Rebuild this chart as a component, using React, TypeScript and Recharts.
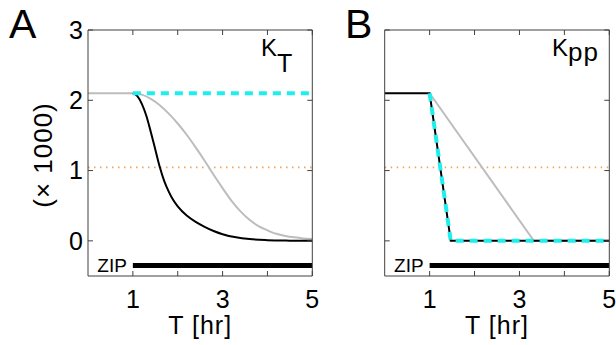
import React from 'react';
import { LineChart, Line, XAxis, YAxis, LabelList } from 'recharts';

const FONT = '"Liberation Sans", Arial, Helvetica, sans-serif';
const AXIS_COLOR = '#404040';

// shared axis ticks
const xTicks = [1, 2, 3, 4, 5];
const xTickLabels: Record<number, string> = { 1: '1', 2: '', 3: '3', 4: '', 5: '5' };
const yTicks = [0, 1, 2, 3];

// Panel A (K_T)
const kTZip = [
  { x: 1.0, y: 2.1 }, { x: 1.1, y: 2.06 }, { x: 1.2, y: 1.95 }, { x: 1.3, y: 1.78 },
  { x: 1.4, y: 1.55 }, { x: 1.5, y: 1.3 }, { x: 1.6, y: 1.05 }, { x: 1.7, y: 0.85 },
  { x: 1.8, y: 0.7 }, { x: 1.9, y: 0.58 }, { x: 2.0, y: 0.49 }, { x: 2.2, y: 0.36 },
  { x: 2.4, y: 0.27 }, { x: 2.6, y: 0.2 }, { x: 2.8, y: 0.14 }, { x: 3.0, y: 0.095 },
  { x: 3.3, y: 0.05 }, { x: 3.6, y: 0.025 }, { x: 4.0, y: 0.01 }, { x: 4.5, y: 0.003 },
  { x: 5.0, y: 0.0 },
];
const kTSlow = [
  { x: 0, y: 2.1 }, { x: 1.0, y: 2.1 }, { x: 1.2, y: 2.08 }, { x: 1.4, y: 2.02 },
  { x: 1.6, y: 1.93 }, { x: 1.8, y: 1.81 }, { x: 2.0, y: 1.67 }, { x: 2.2, y: 1.51 },
  { x: 2.4, y: 1.33 }, { x: 2.6, y: 1.14 }, { x: 2.8, y: 0.94 }, { x: 3.0, y: 0.75 },
  { x: 3.2, y: 0.57 }, { x: 3.4, y: 0.42 }, { x: 3.6, y: 0.3 }, { x: 3.8, y: 0.21 },
  { x: 4.0, y: 0.15 }, { x: 4.2, y: 0.1 }, { x: 4.4, y: 0.07 }, { x: 4.6, y: 0.05 },
  { x: 4.8, y: 0.035 }, { x: 5.0, y: 0.025 },
];
const kTModel = [{ x: 1, y: 2.1 }, { x: 5, y: 2.1 }];

// Panel B (Kpp)
const kppZip = [{ x: 0, y: 2.1 }, { x: 1, y: 2.1 }, { x: 1.47, y: 0 }, { x: 5, y: 0 }];
const kppSlow = [{ x: 1, y: 2.1 }, { x: 3.32, y: 0 }, { x: 5, y: 0 }];
const kppModel = [{ x: 1, y: 2.1 }, { x: 1.47, y: 0 }, { x: 5, y: 0 }];

// shared
const threshold = [{ x: 0, y: 1.045 }, { x: 5, y: 1.045 }];
const zipBar = [{ x: 1, y: -0.35, label: 'ZIP' }, { x: 5, y: -0.35, label: '' }];

const tickStyle = { fontSize: 25, fill: '#000', fontFamily: FONT };

type PanelProps = {
  width: number;
  leftW: number;
  rightW: number;
  showYLabels: boolean;
  children: React.ReactNode;
};

function Panel({ width, leftW, rightW, showYLabels, children }: PanelProps) {
  return (
    <LineChart width={width} height={345} margin={{ top: 0, right: 0, bottom: 0, left: 0 }}>
      <XAxis
        type="number"
        dataKey="x"
        domain={[0, 5]}
        ticks={xTicks}
        tickFormatter={(v: number) => xTickLabels[v] ?? ''}
        tickSize={-5}
        tickMargin={19}
        height={69}
        stroke={AXIS_COLOR}
        tick={tickStyle}
        allowDataOverflow
        interval={0}
        label={{ value: 'T [hr]', position: 'insideTop', offset: 40, fontSize: 25, letterSpacing: 1, fill: '#000', fontFamily: FONT }}
      />
      <XAxis
        xAxisId="top"
        orientation="top"
        type="number"
        dataKey="x"
        domain={[0, 5]}
        ticks={xTicks}
        tickFormatter={() => ''}
        tickSize={-5}
        height={30}
        stroke={AXIS_COLOR}
        allowDataOverflow
        interval={0}
      />
      <YAxis
        type="number"
        domain={[-0.5, 3]}
        ticks={yTicks}
        tickFormatter={(v: number) => (showYLabels ? String(v) : '')}
        tickSize={-5}
        tickMargin={10}
        width={leftW}
        stroke={AXIS_COLOR}
        tick={tickStyle}
        allowDataOverflow
        interval={0}
      />
      <YAxis
        yAxisId="right"
        orientation="right"
        type="number"
        domain={[-0.5, 3]}
        ticks={yTicks}
        tickFormatter={() => ''}
        tickSize={-5}
        width={rightW}
        stroke={AXIS_COLOR}
        allowDataOverflow
        interval={0}
      />
      {children}
    </LineChart>
  );
}

const orangeLine = (
  <Line key="thr" data={threshold} dataKey="y" type="linear" stroke="#F7A050" strokeWidth={1.6}
    strokeDasharray="1.5 4.5" dot={false} isAnimationActive={false} />
);
const zipLine = (
  <Line key="zip" data={zipBar} dataKey="y" type="linear" stroke="#000" strokeWidth={5}
    dot={false} isAnimationActive={false}>
    <LabelList dataKey="label" position="left" offset={6} fontSize={19} fill="#000" fontFamily={FONT} />
  </Line>
);

export default function App() {
  return (
    <div style={{ position: 'absolute', left: 0, top: 0, width: 616, height: 345, background: '#fff', overflow: 'hidden' }}>
      <div style={{ position: 'absolute', left: 0, top: 0 }}>
        <Panel width={320} leftW={88} rightW={7.7} showYLabels>
          {orangeLine}
          <Line data={kTSlow} dataKey="y" type="monotone" stroke="#BDBDBD" strokeWidth={2} dot={false} isAnimationActive={false} />
          <Line data={kTZip} dataKey="y" type="monotone" stroke="#000" strokeWidth={2} dot={false} isAnimationActive={false} />
          <Line data={kTModel} dataKey="y" type="linear" stroke="#1EEEEE" strokeWidth={4} strokeDasharray="8 6" dot={false} isAnimationActive={false} />
          {zipLine}
        </Panel>
      </div>
      <div style={{ position: 'absolute', left: 300, top: 0 }}>
        <Panel width={316} leftW={84.7} rightW={6.7} showYLabels={false}>
          {orangeLine}
          <Line data={kppSlow} dataKey="y" type="linear" stroke="#BDBDBD" strokeWidth={2} dot={false} isAnimationActive={false} />
          <Line data={kppZip} dataKey="y" type="linear" stroke="#000" strokeWidth={2} dot={false} isAnimationActive={false} />
          <Line data={kppModel} dataKey="y" type="linear" stroke="#1EEEEE" strokeWidth={4} strokeDasharray="8 6" dot={false} isAnimationActive={false} />
          {zipLine}
        </Panel>
      </div>
      <svg width={616} height={345} style={{ position: 'absolute', left: 0, top: 0, pointerEvents: 'none' }}>
        <g fontFamily={FONT} fill="#000">
          <text x={9} y={38} fontSize={41}>A</text>
          <text x={345} y={38} fontSize={41}>B</text>
          <text x={43} y={155} fontSize={26} letterSpacing={1} textAnchor="middle" dominantBaseline="central" transform="rotate(-90 43 155)">(× 1000)</text>
          <text x={261} y={56} fontSize={24}>K<tspan dy={16} fontSize={25}>T</tspan></text>
          <text x={552} y={56} fontSize={24}>K<tspan dy={5} fontSize={26} letterSpacing={1}>pp</tspan></text>
        </g>
      </svg>
    </div>
  );
}
